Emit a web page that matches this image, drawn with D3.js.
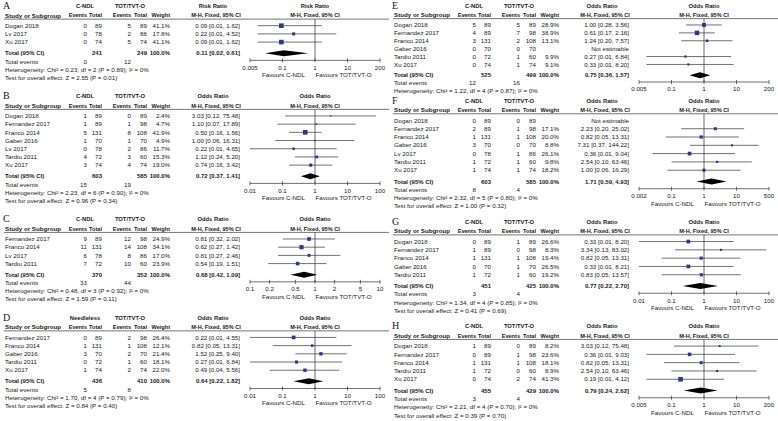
<!DOCTYPE html>
<html>
<head>
<meta charset="utf-8">
<script src="https://cdn.jsdelivr.net/npm/d3@7"></script>
<style>
  body { margin: 0; background: #fff; }
  svg text { font-family: "Liberation Sans", Arial, sans-serif; fill: #1a1a1a; }
</style>
</head>
<body>
<div id="chart"></div>
<script>
// study rows: name, events C-NDL, total C-NDL, events TOT/TVT-O, total TOT/TVT-O, weight, ratio, lower, upper
var rowsA = [
  ["Dogan 2018", 0, 89, 5, 89, 41.1, 0.09, 0.01, 1.62],
  ["Lv 2017", 0, 78, 2, 86, 17.8, 0.22, 0.01, 4.52],
  ["Xu 2017", 0, 74, 5, 74, 41.1, 0.09, 0.01, 1.62]
];
var rowsB = [
  ["Dogan 2018", 1, 89, 0, 89, 2.4, 3.03, 0.12, 75.48],
  ["Fernandez 2017", 1, 89, 1, 98, 4.7, 1.10, 0.07, 17.89],
  ["Franco 2014", 5, 131, 8, 108, 41.9, 0.50, 0.16, 1.56],
  ["Gaber 2016", 1, 70, 1, 70, 4.9, 1.00, 0.06, 16.31],
  ["Lv 2017", 0, 78, 2, 86, 11.7, 0.22, 0.01, 4.65],
  ["Tardiu 2011", 4, 72, 3, 60, 15.3, 1.12, 0.24, 5.20],
  ["Xu 2017", 3, 74, 4, 74, 19.0, 0.74, 0.16, 3.42]
];
var rowsC = [
  ["Fernandez 2017", 9, 89, 12, 98, 24.9, 0.81, 0.32, 2.02],
  ["Franco 2014", 11, 131, 14, 108, 34.1, 0.62, 0.27, 1.42],
  ["Lv 2017", 6, 78, 8, 86, 17.0, 0.81, 0.27, 2.46],
  ["Tardiu 2011", 7, 72, 10, 60, 23.9, 0.54, 0.19, 1.51]
];
var rowsD = [
  ["Fernandez 2017", 0, 89, 2, 98, 26.4, 0.22, 0.01, 4.55],
  ["Franco 2014", 1, 131, 1, 108, 12.1, 0.82, 0.05, 13.31],
  ["Gaber 2016", 3, 70, 2, 70, 21.4, 1.52, 0.25, 9.40],
  ["Tardiu 2011", 0, 72, 1, 60, 18.1, 0.27, 0.01, 6.84],
  ["Xu 2017", 1, 74, 2, 74, 22.0, 0.49, 0.04, 5.56]
];
var rowsE = [
  ["Dogan 2018", 5, 89, 5, 89, 28.9, 1.00, 0.28, 3.56],
  ["Fernandez 2017", 4, 89, 7, 98, 38.9, 0.61, 0.17, 2.16],
  ["Franco 2014", 3, 131, 2, 108, 13.1, 1.24, 0.20, 7.57],
  ["Gaber 2016", 0, 70, 0, 70, null, null, null, null],
  ["Tardiu 2011", 0, 72, 1, 60, 9.9, 0.27, 0.01, 6.84],
  ["Xu 2017", 0, 74, 1, 74, 9.1, 0.33, 0.01, 8.20]
];
var rowsF = [
  ["Dogan 2018", 0, 89, 0, 89, null, null, null, null],
  ["Fernandez 2017", 2, 89, 1, 98, 17.1, 2.23, 0.20, 25.02],
  ["Franco 2014", 1, 131, 1, 108, 20.0, 0.82, 0.05, 13.31],
  ["Gaber 2016", 3, 70, 0, 70, 8.8, 7.31, 0.37, 144.22],
  ["Lv 2017", 0, 78, 1, 86, 26.1, 0.36, 0.01, 9.04],
  ["Tardiu 2011", 1, 72, 1, 60, 9.8, 2.54, 0.10, 63.46],
  ["Xu 2017", 1, 74, 1, 74, 18.2, 1.00, 0.06, 16.29]
];
var rowsG = [
  ["Dogan 2018", 0, 89, 1, 89, 26.6, 0.33, 0.01, 8.20],
  ["Fernandez 2017", 1, 89, 0, 98, 8.3, 3.34, 0.13, 83.02],
  ["Franco 2014", 1, 131, 1, 108, 19.4, 0.82, 0.05, 13.31],
  ["Gaber 2016", 0, 70, 1, 70, 26.5, 0.33, 0.01, 8.21],
  ["Tardiu 2011", 1, 72, 1, 60, 19.2, 0.83, 0.05, 13.57]
];
var rowsH = [
  ["Dogan 2018", 1, 89, 0, 89, 8.2, 3.03, 0.12, 75.48],
  ["Fernandez 2017", 0, 89, 1, 98, 23.6, 0.36, 0.01, 9.03],
  ["Franco 2014", 1, 131, 1, 108, 18.1, 0.82, 0.05, 13.31],
  ["Tardiu 2011", 1, 72, 0, 60, 8.9, 2.54, 0.10, 63.46],
  ["Xu 2017", 0, 74, 2, 74, 41.3, 0.19, 0.01, 4.12]
];

// totals: total C-NDL, total TOT/TVT-O, ratio, lower, upper, events C-NDL, events TOT/TVT-O
var totalA = [241, 249, 0.11, 0.02, 0.61, 0, 12];
var totalB = [603, 585, 0.72, 0.37, 1.41, 15, 19];
var totalC = [370, 352, 0.68, 0.42, 1.09, 33, 44];
var totalD = [436, 410, 0.64, 0.22, 1.82, 5, 8];
var totalE = [525, 499, 0.75, 0.36, 1.57, 12, 16];
var totalF = [603, 585, 1.71, 0.59, 4.93, 8, 4];
var totalG = [451, 425, 0.77, 0.22, 2.70, 3, 4];
var totalH = [455, 429, 0.79, 0.24, 2.62, 3, 4];

var hetStats = [
  "Chi² = 0.23, df = 2 (P = 0.89); I² = 0%",
  "Chi² = 2.23, df = 6 (P = 0.90); I² = 0%",
  "Chi² = 0.48, df = 3 (P = 0.92); I² = 0%",
  "Chi² = 1.70, df = 4 (P = 0.79); I² = 0%",
  "Chi² = 1.22, df = 4 (P = 0.87); I² = 0%",
  "Chi² = 2.32, df = 5 (P = 0.80); I² = 0%",
  "Chi² = 1.34, df = 4 (P = 0.85); I² = 0%",
  "Chi² = 2.21, df = 4 (P = 0.70); I² = 0%"
];
// E's overall-effect line is hidden under panel F in the figure
var zStats = [
  "Z = 2.55 (P = 0.01)", "Z = 0.96 (P = 0.34)", "Z = 1.59 (P = 0.11)", "Z = 0.84 (P = 0.40)",
  null, "Z = 1.00 (P = 0.32)", "Z = 0.41 (P = 0.69)", "Z = 0.39 (P = 0.70)"
];

var ticksA = [0.005, 0.1, 1, 10, 200];
var ticksB = [0.01, 0.1, 1, 10, 100];
var ticksC = [0.1, 0.2, 0.5, 1, 2, 5, 10];
var ticksD = [0.01, 0.1, 1, 10, 100];
var ticksE = [0.005, 0.1, 1, 10, 200];
var ticksF = [0.002, 0.1, 1, 10, 500];
var ticksG = [0.01, 0.1, 1, 10, 100];
var ticksH = [0.005, 0.1, 1, 10, 200];

var svgWidth = 778;
var svgHeight = 421;

var svg = d3.select("#chart")
  .append("svg")
  .attr("width", svgWidth)
  .attr("height", svgHeight);

svg.append("defs").append("clipPath")
  .attr("id", "clipE")
  .append("rect")
  .attr("x", 0).attr("y", 0)
  .attr("width", 389).attr("height", 95.5);

var fmt2 = d3.format(".2f");
var fmt1 = d3.format(".1f");
var fs = 6.2;

function ciText(r, lo, hi) {
  if (r === null) return "Not estimable";
  return fmt2(r) + " [" + fmt2(lo) + ", " + fmt2(hi) + "]";
}

// draws one forest plot; returns y of its last text line
function drawPanel(p) {
  var g = svg.append("g").attr("transform", `translate(${p.x}, 0)`);
  if (p.clip) g.attr("clip-path", "url(#" + p.clip + ")");
  var s = p.s;
  var h1 = p.y, h2 = h1 + 1.15 * s, ul = h2 + 0.45 * s;
  var rowY = function(i) { return h2 + 1.25 * s + i * s; };
  var n = p.rows.length;
  var totY = rowY(n - 1) + 1.35 * s, evY = totY + s, hetY = evY + s, zY = hetY + s;

  function txt(x, y, t, anchor, bold, size) {
    return g.append("text")
      .attr("x", x).attr("y", y)
      .attr("dy", "0.35em")
      .attr("text-anchor", anchor || "start")
      .attr("font-size", (size || fs) + "px")
      .attr("font-weight", bold ? "bold" : "normal")
      .text(t);
  }

  // scale: each interval between labelled ticks is its own log segment
  var dom = p.ticks.length === 5 ? p.ticks : [p.ticks[0], p.ticks[p.ticks.length - 1]];
  var x = d3.scaleLog()
    .domain(dom)
    .range(dom.map((d, i) => 250 + i * 130 / (dom.length - 1)))
    .clamp(true);
  var xc = x(1);
  var size = d3.scaleSqrt().domain([0, 100]).range([0, 7.2]);

  // header
  g.append("text")
    .attr("x", 3).attr("y", h1 + 3)
    .attr("font-size", "10px")
    .style("font-family", "'Liberation Serif', 'DejaVu Serif', serif")
    .text(p.letter);
  txt(85, h1, p.group1, "middle", true, 5.8);
  txt(130, h1, "TOT/TVT-O", "middle", true, 5.8);
  txt(213, h1, p.measure, "middle", true, 5.8);
  txt(xc, h1, p.measure, "middle", true, 5.8);

  txt(5, h2, "Study or Subgroup", "start", true);
  txt(87, h2, "Events", "end", true, 5.6);
  txt(102, h2, "Total", "end", true, 5.6);
  txt(131, h2, "Events", "end", true, 5.6);
  txt(147, h2, "Total", "end", true, 5.6);
  txt(170, h2, "Weight", "end", true, 5.6);
  txt(216, h2, "M-H, Fixed, 95% CI", "middle", true, 5.6);
  txt(xc, h2, "M-H, Fixed, 95% CI", "middle", true, 5.6);

  g.append("line")
    .attr("x1", 4).attr("x2", 389)
    .attr("y1", ul).attr("y2", ul)
    .attr("stroke", "#555").attr("stroke-width", 0.8);

  // study rows
  p.rows.forEach(function(r, i) {
    var y = rowY(i);
    txt(5, y, r[0]);
    txt(87, y, r[1], "end");
    txt(102, y, r[2], "end");
    txt(131, y, r[3], "end");
    txt(147, y, r[4], "end");
    if (r[5] !== null) txt(170, y, fmt1(r[5]) + "%", "end");
    txt(240, y, ciText(r[6], r[7], r[8]), "end");
  });

  // totals and footer
  var t = p.total;
  txt(5, totY, "Total (95% CI)", "start", true, 6);
  txt(102, totY, t[0], "end", true, 6);
  txt(147, totY, t[1], "end", true, 6);
  txt(170, totY, "100.0%", "end", true, 6);
  txt(240, totY, ciText(t[2], t[3], t[4]), "end", true, 6);
  txt(5, evY, "Total events");
  txt(87, evY, t[5], "end");
  txt(131, evY, t[6], "end");
  txt(5, hetY, "Heterogeneity: " + p.het);
  if (p.z) txt(5, zY, "Test for overall effect: " + p.z);

  // plot
  var axisY = evY - 1;
  g.append("line")
    .attr("x1", xc).attr("x2", xc)
    .attr("y1", ul).attr("y2", axisY)
    .attr("stroke", "#444").attr("stroke-width", 0.8);

  var est = p.rows.filter(r => r[6] !== null);
  g.append("g").selectAll("line")
    .data(est)
    .enter()
    .append("line")
    .attr("x1", d => x(d[7]))
    .attr("x2", d => x(d[8]))
    .attr("y1", (d) => rowY(p.rows.indexOf(d)))
    .attr("y2", (d) => rowY(p.rows.indexOf(d)))
    .attr("stroke", "#444").attr("stroke-width", 0.75);

  g.append("g").selectAll("rect")
    .data(est)
    .enter()
    .append("rect")
    .attr("x", d => x(d[6]) - Math.max(1.4, size(d[5])) / 2)
    .attr("y", d => rowY(p.rows.indexOf(d)) - Math.max(1.4, size(d[5])) / 2)
    .attr("width", d => Math.max(1.4, size(d[5])))
    .attr("height", d => Math.max(1.4, size(d[5])))
    .attr("fill", "#2b3990");

  g.append("polygon")
    .attr("points", [
      [x(t[3]), totY], [x(t[2]), totY - 3], [x(t[4]), totY], [x(t[2]), totY + 3]
    ].join(" "))
    .attr("fill", "#000");

  // axis
  g.append("line")
    .attr("x1", 250).attr("x2", 380)
    .attr("y1", axisY).attr("y2", axisY)
    .attr("stroke", "#333").attr("stroke-width", 0.7);
  g.append("g").selectAll("line")
    .data(p.ticks)
    .enter()
    .append("line")
    .attr("x1", d => x(d)).attr("x2", d => x(d))
    .attr("y1", axisY - 2).attr("y2", axisY + 2)
    .attr("stroke", "#333").attr("stroke-width", 0.7);
  g.append("g").selectAll("text")
    .data(p.ticks)
    .enter()
    .append("text")
    .attr("x", d => x(d))
    .attr("y", evY + 0.75 * s)
    .attr("dy", "0.35em")
    .attr("text-anchor", "middle")
    .attr("font-size", fs + "px")
    .text(d => String(d));
  if (p.z) {
    txt((250 + xc) / 2 + 1, evY + 1.65 * s, "Favours C-NDL", "middle");
    txt((xc + 380) / 2 - 4, evY + 1.65 * s, "Favours TOT/TVT-O", "middle");
  }

  return zY;
}

var sl = 8.2, sr = 8.3;

// left column
var yEnd = drawPanel({ x: 0, y: 6, s: sl, letter: "A", group1: "C-NDL", measure: "Risk Ratio",
  rows: rowsA, total: totalA, het: hetStats[0], z: zStats[0], ticks: ticksA });
yEnd = drawPanel({ x: 0, y: yEnd + 18.5, s: sl, letter: "B", group1: "C-NDL", measure: "Odds Ratio",
  rows: rowsB, total: totalB, het: hetStats[1], z: zStats[1], ticks: ticksB });
yEnd = drawPanel({ x: 0, y: yEnd + 18.5, s: sl, letter: "C", group1: "C-NDL", measure: "Odds Ratio",
  rows: rowsC, total: totalC, het: hetStats[2], z: zStats[2], ticks: ticksC });
yEnd = drawPanel({ x: 0, y: yEnd + 18.5, s: sl, letter: "D", group1: "Needleless", measure: "Odds Ratio",
  rows: rowsD, total: totalD, het: hetStats[3], z: zStats[3], ticks: ticksD });

// right column (E is partly covered by F)
drawPanel({ x: 389, y: 6, s: 7.9, letter: "E", group1: "C-NDL", measure: "Odds Ratio", clip: "clipE",
  rows: rowsE, total: totalE, het: hetStats[4], z: zStats[4], ticks: ticksE });
yEnd = drawPanel({ x: 389, y: 100.5, s: sr, letter: "F", group1: "C-NDL", measure: "Odds Ratio",
  rows: rowsF, total: totalF, het: hetStats[5], z: zStats[5], ticks: ticksF });
yEnd = drawPanel({ x: 389, y: yEnd + 15.3, s: sr, letter: "G", group1: "C-NDL", measure: "Odds Ratio",
  rows: rowsG, total: totalG, het: hetStats[6], z: zStats[6], ticks: ticksG });
yEnd = drawPanel({ x: 389, y: yEnd + 15.3, s: sr, letter: "H", group1: "C-NDL", measure: "Odds Ratio",
  rows: rowsH, total: totalH, het: hetStats[7], z: zStats[7], ticks: ticksH });
</script>
</body>
</html>
